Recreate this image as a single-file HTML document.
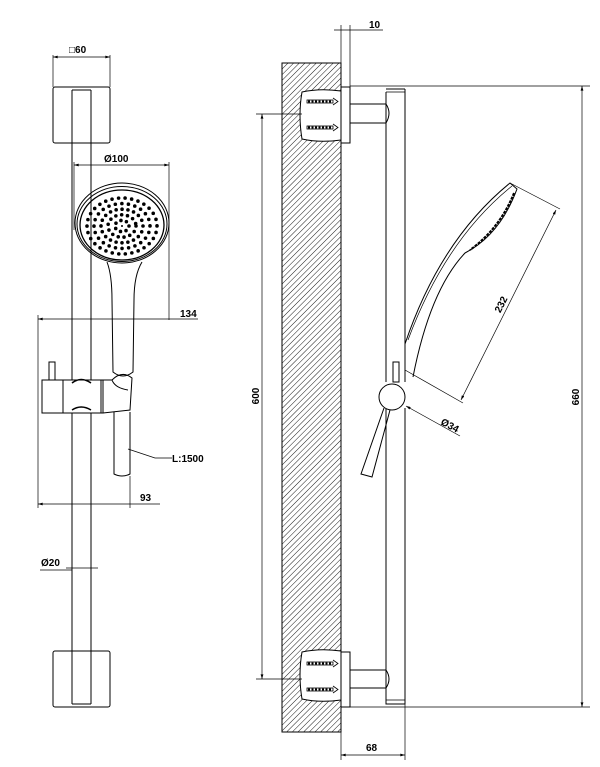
<!DOCTYPE html>
<html><head><meta charset="utf-8"><style>
html,body{margin:0;padding:0;background:#fff;}
svg{display:block;}
text{font-family:"Liberation Sans",sans-serif;font-size:10px;font-weight:bold;fill:#000;}
</style></head><body>
<svg width="600" height="767" viewBox="0 0 600 767" xmlns="http://www.w3.org/2000/svg">
<defs>
<pattern id="h" width="4" height="4" patternUnits="userSpaceOnUse" patternTransform="rotate(45)">
<line x1="0" y1="0" x2="0" y2="4" stroke="#000" stroke-width="0.9"/>
</pattern>
<marker id="a" viewBox="0 0 10 6" refX="10" refY="3" markerWidth="7" markerHeight="4" orient="auto-start-reverse"><path d="M0,0L10,3L0,6z" fill="#000"/></marker>
</defs>
<g fill="none" stroke="#000" stroke-width="1">
<!-- LEFT VIEW -->
<rect x="53" y="87" width="57" height="56" rx="2"/>
<rect x="53" y="651" width="57" height="56" rx="2"/>
<line x1="72" y1="90" x2="72" y2="380"/><line x1="91" y1="90" x2="91" y2="380"/>
<line x1="72" y1="90" x2="91" y2="90"/>
<line x1="72" y1="413" x2="72" y2="704"/><line x1="91" y1="413" x2="91" y2="704"/>
<line x1="72" y1="704" x2="91" y2="704"/>
<line x1="53" y1="55" x2="53" y2="87" stroke-width="0.7"/><line x1="110" y1="55" x2="110" y2="87" stroke-width="0.7"/>
<line x1="53" y1="57" x2="110" y2="57" stroke-width="0.7" marker-start="url(#a)" marker-end="url(#a)"/>
<line x1="74" y1="162" x2="74" y2="230" stroke-width="0.7"/><line x1="169" y1="162" x2="169" y2="320" stroke-width="0.7"/>
<line x1="74" y1="165" x2="169" y2="165" stroke-width="0.7" marker-start="url(#a)" marker-end="url(#a)"/>
<line x1="38" y1="315" x2="38" y2="508" stroke-width="0.7"/>
<line x1="38" y1="319" x2="198" y2="319" stroke-width="0.7" marker-start="url(#a)"/>
<line x1="38" y1="504" x2="160" y2="504" stroke-width="0.7" marker-start="url(#a)"/>
<line x1="130" y1="476" x2="130" y2="508" stroke-width="0.7"/>
<line x1="66" y1="568" x2="98" y2="568" stroke-width="0.7"/>
<line x1="40" y1="570" x2="72" y2="570" stroke-width="0.7"/>
<!-- head -->
<ellipse cx="122" cy="223" rx="47" ry="40"/>
<ellipse cx="122" cy="224" rx="45" ry="37.5"/>
<ellipse cx="122" cy="225" rx="42" ry="35" stroke-width="1.3"/>
<path d="M107,262 Q112,275 112,300 L113,372 Q123,380 133,372 L134,300 Q134,275 142,262"/>
<!-- slider -->
<rect x="42" y="380" width="61" height="33"/>
<line x1="63" y1="380" x2="63" y2="413"/><line x1="101" y1="380" x2="101" y2="413"/>
<path d="M72,383 Q81,376 91,383 M72,410 Q81,404 91,410" stroke-width="1.5"/>
<rect x="49" y="362" width="6" height="18"/>
<path d="M103,380 L112,380 Q122,370 132,378 L130,410 L103,413 M112,380 Q115,388 128,390"/>
<path d="M114,412 L114,474 Q122,478 130,474 L130,412"/>
<path d="M128,449 L155,458 L172,458" stroke-width="0.7"/>
<!-- RIGHT VIEW -->
<rect x="282" y="63" width="59" height="669" fill="url(#h)" stroke="#000"/>
<path d="M302,92 Q320,88 341,91 L341,140 Q320,143 302,139 Q298,115 302,92z" fill="#fff" stroke="#000"/>
<path d="M302,652 Q320,648 341,651 L341,700 Q320,703 302,699 Q298,675 302,652z" fill="#fff" stroke="#000"/>
<g stroke-width="0.8">
<rect x="307" y="100" width="26" height="3"/><rect x="307" y="126" width="26" height="3"/>
<rect x="307" y="662" width="26" height="3"/><rect x="307" y="688" width="26" height="3"/>
</g>
<g stroke-width="2" stroke-dasharray="2 1.5">
<line x1="308" y1="101.5" x2="332" y2="101.5"/><line x1="308" y1="127.5" x2="332" y2="127.5"/>
<line x1="308" y1="663.5" x2="332" y2="663.5"/><line x1="308" y1="689.5" x2="332" y2="689.5"/>
</g>
<path d="M333,98 L338,101.5 L333,105 M333,124 L338,127.5 L333,131 M333,660 L338,663.5 L333,667 M333,686 L338,689.5 L333,693" stroke-width="0.8"/>
<rect x="341" y="87" width="9" height="56" fill="#fff"/>
<rect x="341" y="652" width="9" height="55" fill="#fff"/>
<path d="M350,104 L386,104 Q392,113 386,123 L350,123"/>
<path d="M350,670 L386,670 Q392,679 386,688 L350,688"/>
<path d="M386,89 L405,89 M386,92 L386,382 M405,89 L405,382 M386,408 L386,704 L405,704 L405,408"/>
<path d="M386,700 L405,700 M386,92 L405,92" stroke-width="0.7"/>
<line x1="341" y1="25" x2="341" y2="87" stroke-width="0.7"/><line x1="350" y1="25" x2="350" y2="87" stroke-width="0.7"/>
<line x1="334" y1="30" x2="383" y2="30" stroke-width="0.7"/>
<line x1="350" y1="86" x2="590" y2="86" stroke-width="0.7"/>
<line x1="350" y1="707" x2="590" y2="707" stroke-width="0.7"/>
<line x1="582" y1="86" x2="582" y2="707" stroke-width="0.7" marker-start="url(#a)" marker-end="url(#a)"/>
<line x1="256" y1="114" x2="302" y2="114" stroke-width="0.7"/>
<line x1="256" y1="679" x2="302" y2="679" stroke-width="0.7"/>
<line x1="262" y1="114" x2="262" y2="679" stroke-width="0.7" marker-start="url(#a)" marker-end="url(#a)"/>
<line x1="341" y1="707" x2="341" y2="760" stroke-width="0.7"/><line x1="405" y1="704" x2="405" y2="760" stroke-width="0.7"/>
<line x1="341" y1="755" x2="405" y2="755" stroke-width="0.7" marker-start="url(#a)" marker-end="url(#a)"/>
<!-- hand shower right -->
<path d="M405,344 Q440,240 510,183 L517,189 Q500,235 465,253 Q430,290 413,377"/>
<path d="M408,340 Q445,240 512,186" stroke-width="0.7"/>
<path d="M514,193 Q500,228 470,250" stroke-width="2" stroke-dasharray="3 1"/>
<line x1="510" y1="183" x2="560" y2="209" stroke-width="0.7"/>
<line x1="405" y1="370" x2="463" y2="403" stroke-width="0.7"/>
<line x1="556" y1="210" x2="461" y2="400" stroke-width="0.7" marker-start="url(#a)" marker-end="url(#a)"/>
<rect x="393" y="362" width="6" height="20"/>
<circle cx="392" cy="397" r="13" fill="#fff"/>
<path d="M384,408 L361,474 L372,477 L390,410"/>
<line x1="406" y1="406" x2="460" y2="436" stroke-width="0.7" marker-start="url(#a)"/>
<!-- nozzle dots -->
<g stroke-linecap="round" stroke-width="3.6">
<ellipse cx="122" cy="226" rx="7" ry="5.6" stroke-dasharray="0 5.7"/>
<ellipse cx="122" cy="226" rx="14" ry="11.2" stroke-dasharray="0 5.9"/>
<ellipse cx="122" cy="226" rx="21" ry="16.8" stroke-dasharray="0 5.95"/>
<ellipse cx="122" cy="226" rx="28" ry="22.4" stroke-dasharray="0 6.6"/>
<ellipse cx="122" cy="226" rx="35" ry="28" stroke-dasharray="0 6.6"/>
</g>
</g>
<circle cx="122" cy="226" r="1" fill="#000"/>
<text x="69" y="53">□60</text>
<text x="104" y="162">Ø100</text>
<text x="180" y="317">134</text>
<text x="172" y="462">L:1500</text>
<text x="140" y="501">93</text>
<text x="41" y="566">Ø20</text>
<text x="369" y="28">10</text>
<text x="366" y="751">68</text>
<text transform="translate(259,396) rotate(-90)" text-anchor="middle">600</text>
<text transform="translate(579,397) rotate(-90)" text-anchor="middle">660</text>
<text transform="translate(504,306) rotate(-63)" text-anchor="middle">232</text>
<text transform="translate(440,424) rotate(28)">Ø34</text>
</svg>
</body></html>
